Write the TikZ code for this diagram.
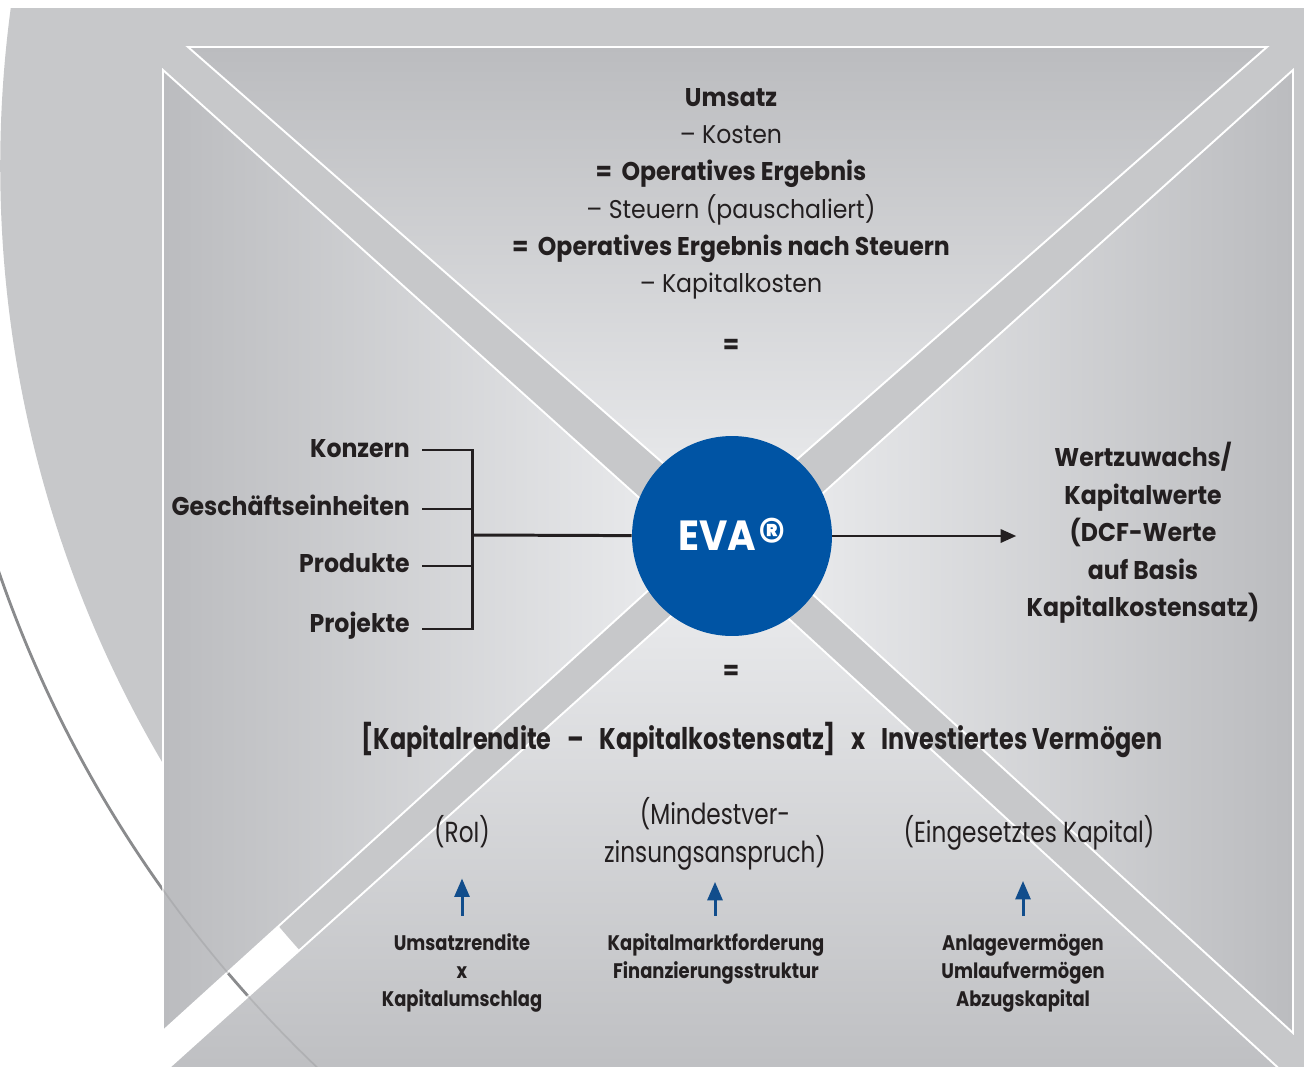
\documentclass[tikz,border=0pt]{standalone}
\usepackage{fontspec}
\setmainfont{Poppins}[FakeStretch=0.92]
\newfontfamily\narrowfont{Poppins}[FakeStretch=0.8]
\newfontfamily\smallfont{Poppins}[FakeStretch=0.85]
\usetikzlibrary{arrows.meta}
\definecolor{EVA-blue}{RGB}{0,84,164}
\definecolor{Arrow-blue}{RGB}{17,77,140}
\definecolor{Back-gray}{RGB}{199,200,202}
\definecolor{Panel-dark}{RGB}{187,188,191}
\definecolor{Panel-light}{RGB}{236,237,239}
\definecolor{Ink}{RGB}{35,31,32}
\definecolor{Arc-gray}{RGB}{138,139,141}

\begin{document}
\begin{tikzpicture}[x=0.02cm, y=-0.02cm]
    \tikzset{ pnl/.style={draw=white, line width=1.1pt} }
    \tikzset{ tb/.style={text=Ink, inner sep=0pt, font=\fontsize{14.6}{21.3}\selectfont\bfseries} }
    \tikzset{ tr/.style={text=Ink, inner sep=0pt, font=\fontsize{14.6}{21.3}\selectfont} }
    \tikzset{ lb/.style={tb, anchor=base east, inner xsep=6.8pt} }
    \tikzset{ sm/.style={text=Ink, inner sep=0pt, align=center, font=\smallfont\fontsize{12}{15.9}\selectfont\bfseries} }
    \tikzset{ pr/.style={text=Ink, inner sep=0pt, align=center, font=\narrowfont\fontsize{16.5}{21.6}\selectfont} }
    \tikzset{ bar/.style={draw=Ink, line width=1.7pt, line join=miter} }
    \tikzset{ uparr/.style={draw=Arrow-blue, line width=1.7pt, -{Triangle[length=10.5pt,width=8.5pt]}} }
    \tikzset{ evac/.style={circle, fill=EVA-blue, minimum size=4cm, inner sep=0pt, text=white, font=\fontsize{24}{24}\selectfont\bfseries} }

    \useasboundingbox (0,0) rectangle (1304,1067);
    \begin{scope}
    \clip (0,0) rectangle (1304,1067);
    \begin{scope}
    \clip (0,9) rectangle (1304,1067);
    \fill[Back-gray] (1177,166) circle (23.54cm);
    \end{scope}
    \draw[Arc-gray, line width=1.6pt] (1177,166) circle (24.92cm);

    \shadedraw[pnl, top color=Panel-dark, bottom color=Panel-light] (188,47) -- (1267,47) -- (728,520) -- cycle;
    \shadedraw[pnl, left color=Panel-dark, right color=Panel-light] (163,70) -- (695,548) -- (163,1031) -- cycle;
    \shadedraw[pnl, left color=Panel-light, right color=Panel-dark] (1293,70) -- (1293,1033) -- (762,548) -- cycle;
    \shadedraw[pnl, top color=Panel-light, bottom color=Panel-dark] (124,1108) -- (729,564) -- (1322,1108) -- cycle;

    \draw[Arc-gray, line width=1pt, opacity=0.3] (1177,166) circle (24.92cm);
    \end{scope}

    \node[tb, anchor=base] (t1) at (731,107) {Umsatz};
    \node[tr, anchor=base] (t2) at (731,144) {– Kosten};
    \node[tb, anchor=base] (t3) at (731,181) {=\hspace{2.5pt} Operatives Ergebnis};
    \node[tr, anchor=base] (t4) at (731,219) {– Steuern (pauschaliert)};
    \node[tb, anchor=base] (t5) at (731,256) {=\hspace{2.5pt} Operatives Ergebnis nach Steuern};
    \node[tr, anchor=base] (t6) at (731,293) {– Kapitalkosten};
    \node[tb, anchor=base] (eq1) at (731,354) {=};

    \node[evac] (eva) at (732,536) {EVA\hspace{1pt}\raisebox{-5pt}[0pt][0pt]{\fontsize{33}{33}\selectfont ®}};

    \node[lb] (k1) at (422,457) {Konzern};
    \node[lb] (k2) at (422,515) {Geschäftseinheiten};
    \node[lb] (k3) at (422,572) {Produkte};
    \node[lb] (k4) at (422,632) {Projekte};
    \coordinate (b1) at (472,450);
    \coordinate (b2) at (472,509);
    \coordinate (b3) at (472,566);
    \coordinate (b4) at (472,629);
    \coordinate (bj) at (472,535);
    \draw[bar] (b1 -| k1.east) -- (b1) -- (b4) -- (b4 -| k4.east);
    \draw[bar] (b2 -| k2.east) -- (b2);
    \draw[bar] (b3 -| k3.east) -- (b3);
    \draw[bar] (bj) -- (eva);

    \node[tb, align=center, inner sep=5.7pt] (wz) at (1143,533) {Wertzuwachs/\\Kapitalwerte\\(DCF-Werte\\auf Basis\\Kapitalkostensatz)};
    \draw[bar, -{Triangle[length=9pt,width=7.5pt]}] (eva) -- (eva -| wz.west);

    \node[tb, anchor=base] (eq2) at (731,679) {=};
    \node[pr, anchor=base, font=\narrowfont\fontsize{17}{21.6}\selectfont\bfseries] (fm) at (762,749) {[Kapitalrendite\hspace{9pt}–\hspace{9pt}Kapitalkostensatz]\hspace{9pt}x\hspace{9pt}Investiertes Vermögen};

    \node[pr, anchor=base] (roi) at (462,842) {(RoI)};
    \node[pr] (mv) at (715,834) {(Mindestver-\\zinsungsanspruch)};
    \node[pr, anchor=base] (ek) at (1029,842) {(Eingesetztes Kapital)};

    \node[sm] (s1) at (462,973) {Umsatzrendite\\x\\Kapitalumschlag};
    \node[sm] (s2) at (716,959) {Kapitalmarktforderung\\Finanzierungsstruktur};
    \node[sm] (s3) at (1023,973) {Anlagevermögen\\Umlaufvermögen\\Abzugskapital};

    \draw[uparr, shorten <=10pt, shorten >=17.5pt] (s1.north) -- (s1.north |- roi.south);
    \draw[uparr, shorten <=10pt, shorten >=6.3pt] (s2.north -| mv.south) -- (mv.south);
    \draw[uparr, shorten <=10pt, shorten >=17.5pt] (s3.north) -- (s3.north |- ek.south);
\end{tikzpicture}
\end{document}
